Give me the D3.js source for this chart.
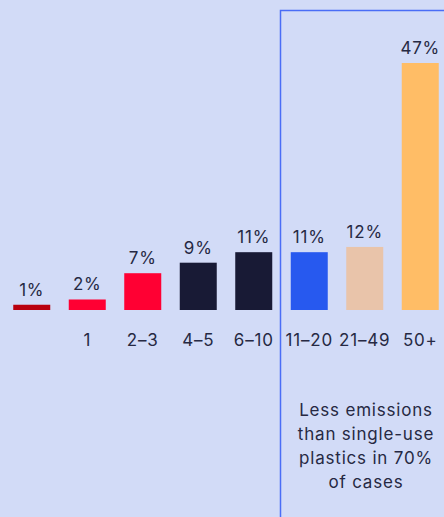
<!DOCTYPE html>
<html>
<head>
<meta charset="utf-8">
<script src="https://cdn.jsdelivr.net/npm/d3@7"></script>
<style>
  html, body { margin: 0; padding: 0; background: #d2dbf7; }
  svg { display: block; }
  text { font-family: Inter, "Noto Sans", sans-serif; fill: #262943; letter-spacing: 0.8px; }
</style>
</head>
<body>
<svg id="chart" width="444" height="517"></svg>
<script>
// Number of uses and share of cases
const categories = ["", "1", "2–3", "4–5", "6–10", "11–20", "21–49", "50+"];
const shares = [1, 2, 7, 9, 11, 11, 12, 47];
const barColors = ["#b9000e", "#ff0033", "#ff0033", "#181a35", "#181a35", "#2759ef", "#e9c4aa", "#ffbd66"];
const noteLines = ["Less emissions", "than single-use", "plastics in 70%", "of cases"];

const svg = d3.select("#chart");
const baseline = 310;

const x = d3.scaleBand()
  .domain(categories.map((c, i) => i))
  .range([4, 448])
  .paddingInner(1 / 3)
  .paddingOuter(1 / 6);

const y = d3.scaleLinear()
  .domain([0, 47])
  .range([baseline, 63]);

// Bars
svg.append("g")
  .selectAll("rect")
  .data(shares)
  .join("rect")
  .attr("x", (d, i) => x(i))
  .attr("y", d => y(d))
  .attr("width", x.bandwidth())
  .attr("height", d => baseline - y(d))
  .attr("fill", (d, i) => barColors[i]);

// Value labels
svg.append("g")
  .selectAll("text")
  .data(shares)
  .join("text")
  .attr("x", (d, i) => x(i) + x.bandwidth() / 2)
  .attr("y", d => y(d) - 9)
  .attr("text-anchor", "middle")
  .attr("font-size", 17)
  .text(d => d + "%");

// Category axis (labels only)
const axis = svg.append("g")
  .attr("transform", `translate(0, ${baseline})`)
  .call(d3.axisBottom(x).tickFormat(i => categories[i]).tickSize(0).tickPadding(24));
axis.select(".domain").remove();
axis.selectAll("text")
  .attr("font-size", 17)
  .style("font-family", "Inter, 'Noto Sans', sans-serif")
  .attr("fill", "#262943");

// Highlight frame around the reusable range
svg.append("rect")
  .attr("x", 280.5)
  .attr("y", 10.5)
  .attr("width", 300)
  .attr("height", 600)
  .attr("fill", "none")
  .attr("stroke", "#4a6df6")
  .attr("stroke-width", 1.5);

// Note inside the frame
const note = svg.append("text")
  .attr("x", 366)
  .attr("y", 416)
  .attr("text-anchor", "middle")
  .attr("font-size", 17);
note.selectAll("tspan")
  .data(noteLines)
  .join("tspan")
  .attr("x", 366)
  .attr("dy", (d, i) => i === 0 ? 0 : 24)
  .text(d => d);
</script>
</body>
</html>
